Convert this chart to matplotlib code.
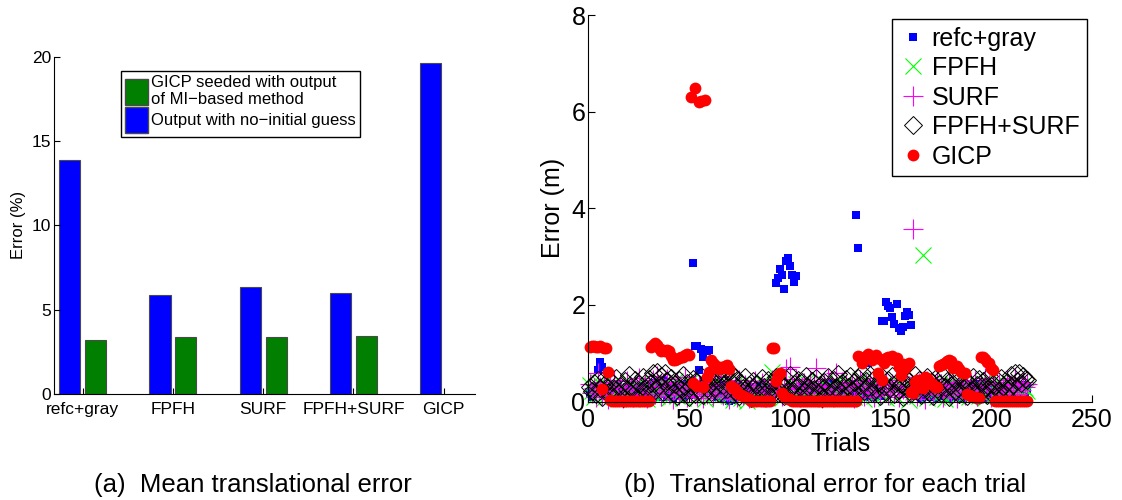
import numpy as np
import matplotlib
matplotlib.use("Agg")
import matplotlib.pyplot as plt
from matplotlib.patches import Patch

plt.rcParams['font.family'] = ['Liberation Sans', 'DejaVu Sans']

# ---- (a) mean translational error (%) ----
methods = ['refc+gray', 'FPFH', 'SURF', 'FPFH+SURF', 'GICP']
no_guess = [13.9, 5.86, 6.35, 6.0, 19.62]
seeded = [3.18, 3.38, 3.4, 3.43, np.nan]

# ---- (b) translational error (m) per trial ----
refc_gray = [
    0.18, 0.10, 0.25, 0.30, 0.65, 0.82, 0.72, 0.20, 0.12, 0.28,
    0.15, 0.22, 0.08, 0.35, 0.19, 0.05, 0.27, 0.14, 0.31, 0.09,
    0.24, 0.16, 0.06, 0.29, 0.21, 0.11, 0.33, 0.07, 0.18, 0.26,
    0.13, 0.38, 0.20, 0.09, 0.28, 0.15, 0.42, 0.22, 0.10, 0.30,
    0.17, 0.08, 0.25, 0.34, 0.12, 0.19, 0.05, 0.27, 0.36, 0.14,
    0.21, 2.86, 1.14, 1.15, 0.65, 1.08, 0.92, 1.05, 1.04, 1.06,
    0.30, 0.18, 0.24, 0.10, 0.35, 0.07, 0.20, 0.28, 0.12, 0.02,
    0.25, 0.04, 0.16, 0.32, 0.09, 0.22, 0.14, 0.05, 0.27, 0.18,
    0.11, 0.29, 0.20, 0.06, 0.33, 0.15, 0.24, 0.08, 0.19, 0.30,
    0.12, 0.26, 2.46, 2.55, 2.74, 2.62, 2.34, 2.90, 2.97, 2.81,
    2.62, 2.48, 2.60, 0.21, 0.13, 0.28, 0.07, 0.34, 0.18, 0.10,
    0.25, 0.16, 0.31, 0.05, 0.22, 0.14, 0.29, 0.09, 0.36, 0.19,
    0.11, 0.27, 0.17, 0.06, 0.32, 0.23, 0.13, 0.28, 0.08, 0.20,
    0.15, 0.30, 3.87, 3.17, 0.18, 0.26, 0.10, 0.22, 0.80, 0.14,
    0.27, 0.09, 0.33, 0.19, 0.12, 1.66, 1.67, 2.07, 1.97, 1.93,
    1.76, 1.60, 2.02, 1.52, 1.45, 1.55, 1.78, 1.86, 1.80, 1.58,
    0.24, 0.11, 0.30, 0.17, 0.07, 0.26, 0.14, 0.35, 0.20, 0.09,
    0.28, 0.16, 0.05, 0.23, 0.31, 0.12, 0.19, 0.27, 0.08, 0.34,
    0.15, 0.22, 0.10, 0.29, 0.18, 0.06, 0.25, 0.13, 0.32, 0.20,
    0.09, 0.27, 0.16, 0.36, 0.11, 0.23, 0.07, 0.30, 0.19, 0.14,
    0.26, 0.10, 0.33, 0.17, 0.05, 0.28, 0.21, 0.12, 0.31, 0.18,
    0.24, 0.08, 0.29, 0.15, 0.35, 0.20, 0.11, 0.26]

fpfh = [
    0.35, 0.22, 0.10, 0.28, 0.40, 0.15, 0.33, 0.08, 0.25, 0.19,
    0.30, 0.12, 0.38, 0.21, 0.06, 0.27, 0.34, 0.14, 0.23, 0.41,
    0.17, 0.29, 0.09, 0.36, 0.20, 0.13, 0.32, 0.24, 0.05, 0.30,
    0.18, 0.39, 0.26, 0.11, 0.45, 0.22, 0.15, 0.37, 0.28, 0.08,
    0.31, 0.19, 0.42, 0.12, 0.25, 0.34, 0.07, 0.29, 0.21, 0.38,
    0.14, 0.33, 0.24, 0.10, 0.40, 0.18, 0.27, 0.06, 0.35, 0.22,
    0.30, 0.13, 0.44, 0.20, 0.09, 0.32, 0.25, 0.16, 0.38, 0.11,
    0.28, 0.04, 0.36, 0.19, 0.23, 0.07, 0.31, 0.15, 0.02, 0.26,
    0.12, 0.34, 0.21, 0.05, 0.29, 0.18, 0.37, 0.10, 0.25, 0.33,
    0.62, 0.20, 0.14, 0.39, 0.27, 0.08, 0.32, 0.23, 0.43, 0.16,
    0.30, 0.11, 0.36, 0.21, 0.07, 0.28, 0.17, 0.41, 0.24, 0.13,
    0.35, 0.19, 0.09, 0.31, 0.26, 0.15, 0.38, 0.05, 0.22, 0.33,
    0.12, 0.29, 0.40, 0.18, 0.25, 0.08, 0.34, 0.21, 0.14, 0.37,
    0.27, 0.10, 0.32, 0.19, 0.44, 0.23, 0.06, 0.30, 0.16, 0.36,
    0.24, 0.11, 0.39, 0.20, 0.28, 0.13, 0.35, 0.07, 0.26, 0.42,
    0.17, 0.31, 0.09, 0.37, 0.22, 0.15, 0.33, 0.25, 0.04, 0.29,
    0.19, 0.38, 0.12, 0.27, 0.34, 3.03, 0.21, 0.08, 0.31, 0.16,
    0.40, 0.23, 0.10, 0.35, 0.18, 0.28, 0.06, 0.32, 0.24, 0.14,
    0.37, 0.20, 0.11, 0.30, 0.26, 0.43, 0.15, 0.33, 0.09, 0.22,
    0.29, 0.17, 0.36, 0.12, 0.25, 0.39, 0.07, 0.31, 0.19, 0.27,
    0.14, 0.34, 0.22, 0.41, 0.10, 0.28, 0.18, 0.35, 0.13, 0.30,
    0.24, 0.09, 0.37, 0.20, 0.32, 0.15, 0.27, 0.22]

surf = [
    0.36, 0.18, 0.27, 0.09, 0.58, 0.31, 0.14, 0.40, 0.22, 0.05,
    0.33, 0.19, 0.45, 0.12, 0.28, 0.37, 0.08, 0.25, 0.42, 0.16,
    0.30, 0.10, 0.35, 0.21, 0.48, 0.13, 0.26, 0.39, 0.07, 0.32,
    0.20, 0.44, 0.15, 0.52, 0.29, 0.11, 0.38, 0.24, 0.47, 0.17,
    0.34, 0.06, 0.27, 0.41, 0.14, 0.31, 0.22, 0.50, 0.09, 0.36,
    0.19, 0.28, 0.43, 0.12, 0.33, 0.24, 0.08, 0.39, 0.16, 0.46,
    0.25, 0.11, 0.37, 0.20, 0.30, 0.53, 0.14, 0.34, 0.22, 0.05,
    0.40, 0.18, 0.29, 0.10, 0.45, 0.26, 0.13, 0.35, 0.21, 0.08,
    0.31, 0.17, 0.42, 0.24, 0.12, 0.38, 0.27, 0.09, 0.33, 0.19,
    0.44, 0.15, 0.30, 0.23, 0.36, 0.11, 0.28, 0.68, 0.20, 0.72,
    0.34, 0.13, 0.47, 0.25, 0.09, 0.31, 0.39, 0.17, 0.26, 0.43,
    0.12, 0.35, 0.70, 0.21, 0.30, 0.08, 0.37, 0.24, 0.46, 0.15,
    0.32, 0.19, 0.60, 0.28, 0.11, 0.41, 0.23, 0.35, 0.14, 0.29,
    0.38, 0.07, 0.33, 0.20, 0.45, 0.26, 0.12, 0.36, 0.18, 0.42,
    0.24, 0.10, 0.31, 0.49, 0.16, 0.34, 0.22, 0.40, 0.13, 0.28,
    0.37, 0.19, 0.44, 0.09, 0.30, 0.25, 0.51, 0.15, 0.33, 0.21,
    3.58, 0.27, 0.12, 0.39, 0.18, 0.32, 0.06, 0.43, 0.24, 0.35,
    0.14, 0.29, 0.47, 0.20, 0.36, 0.10, 0.31, 0.25, 0.41, 0.16,
    0.34, 0.22, 0.08, 0.38, 0.27, 0.45, 0.13, 0.30, 0.19, 0.36,
    0.23, 0.42, 0.11, 0.33, 0.28, 0.17, 0.48, 0.21, 0.35, 0.09,
    0.40, 0.26, 0.15, 0.37, 0.22, 0.31, 0.12, 0.44, 0.19, 0.34,
    0.27, 0.49, 0.16, 0.38, 0.23, 0.41, 0.30, 0.36]

fpfh_surf = [
    0.30, 0.22, 0.38, 0.15, 0.45, 0.28, 0.10, 0.35, 0.50, 0.20,
    0.12, 0.40, 0.26, 0.48, 0.18, 0.33, 0.08, 0.42, 0.25, 0.55,
    0.30, 0.14, 0.44, 0.22, 0.36, 0.10, 0.50, 0.28, 0.16, 0.46,
    0.38, 0.58, 0.24, 0.62, 0.34, 0.52, 0.20, 0.60, 0.42, 0.30,
    0.48, 0.18, 0.36, 0.12, 0.44, 0.26, 0.54, 0.20, 0.38, 0.10,
    0.32, 0.46, 0.16, 0.40, 0.24, 0.52, 0.14, 0.36, 0.28, 0.48,
    0.20, 0.42, 0.30, 0.56, 0.18, 0.46, 0.34, 0.60, 0.26, 0.62,
    0.40, 0.55, 0.22, 0.44, 0.12, 0.38, 0.28, 0.50, 0.16, 0.34,
    0.08, 0.42, 0.24, 0.36, 0.14, 0.48, 0.30, 0.20, 0.44, 0.10,
    0.38, 0.26, 0.50, 0.18, 0.40, 0.32, 0.12, 0.46, 0.24, 0.54,
    0.16, 0.36, 0.28, 0.44, 0.10, 0.40, 0.22, 0.52, 0.30, 0.14,
    0.42, 0.26, 0.48, 0.18, 0.34, 0.08, 0.40, 0.24, 0.50, 0.32,
    0.16, 0.44, 0.28, 0.56, 0.20, 0.38, 0.12, 0.46, 0.30, 0.52,
    0.24, 0.40, 0.14, 0.48, 0.34, 0.58, 0.22, 0.42, 0.30, 0.54,
    0.18, 0.46, 0.26, 0.38, 0.12, 0.50, 0.32, 0.20, 0.44, 0.28,
    0.52, 0.16, 0.40, 0.24, 0.36, 0.10, 0.48, 0.30, 0.42, 0.18,
    0.34, 0.54, 0.22, 0.44, 0.14, 0.38, 0.28, 0.50, 0.20, 0.40,
    0.12, 0.46, 0.26, 0.36, 0.18, 0.52, 0.30, 0.42, 0.10, 0.34,
    0.48, 0.22, 0.40, 0.16, 0.56, 0.28, 0.44, 0.12, 0.38, 0.24,
    0.50, 0.18, 0.34, 0.46, 0.20, 0.42, 0.30, 0.14, 0.52, 0.26,
    0.36, 0.10, 0.44, 0.22, 0.48, 0.32, 0.16, 0.40, 0.28, 0.54,
    0.34, 0.58, 0.42, 0.60, 0.38, 0.52, 0.46, 0.44]

gicp = [
    1.12, 1.14, 1.15, 1.13, 1.12, 1.14, 0.25, 1.10, 1.11, 0.62,
    0.03, 0.01, 0.01, 0.01, 0.01, 0.01, 0.01, 0.01, 0.01, 0.01,
    0.01, 0.01, 0.01, 0.01, 0.01, 0.01, 0.01, 0.01, 0.01, 0.01,
    1.12, 1.18, 1.22, 1.18, 1.10, 1.05, 1.06, 1.04, 1.06, 1.05,
    0.95, 0.86, 0.85, 0.88, 0.90, 0.92, 0.93, 0.96, 0.98, 0.97,
    6.30, 0.38, 6.50, 0.32, 6.20, 6.22, 0.30, 6.25, 0.50, 0.62,
    0.85, 0.80, 0.75, 0.70, 0.68, 0.72, 0.70, 0.73, 0.75, 0.68,
    0.32, 0.28, 0.25, 0.20, 0.16, 0.14, 0.12, 0.10, 0.08, 0.05,
    0.01, 0.01, 0.01, 0.01, 0.01, 0.01, 0.01, 0.01, 0.01, 0.01,
    1.10, 1.11, 0.42, 0.55, 0.60, 0.18, 0.12, 0.08, 0.06, 0.05,
    0.01, 0.01, 0.01, 0.01, 0.01, 0.01, 0.01, 0.01, 0.01, 0.01,
    0.01, 0.01, 0.01, 0.01, 0.01, 0.01, 0.01, 0.01, 0.01, 0.01,
    0.01, 0.01, 0.01, 0.01, 0.01, 0.01, 0.01, 0.01, 0.01, 0.01,
    0.01, 0.01, 0.01, 0.95, 0.92, 0.80, 0.88, 0.95, 0.98, 0.90,
    0.85, 0.93, 0.97, 0.58, 0.88, 0.45, 0.80, 0.90, 0.92, 0.88,
    0.95, 0.85, 0.90, 0.72, 0.55, 0.78, 0.70, 0.75, 0.80, 0.20,
    0.17, 0.40, 0.45, 0.35, 0.30, 0.27, 0.50, 0.48, 0.42, 0.38,
    0.35, 0.31, 0.30, 0.74, 0.76, 0.78, 0.80, 0.84, 0.86, 0.83,
    0.70, 0.72, 0.74, 0.68, 0.62, 0.60, 0.59, 0.15, 0.13, 0.12,
    0.10, 0.09, 0.08, 0.07, 0.93, 0.92, 0.88, 0.82, 0.80, 0.70,
    0.66, 0.01, 0.01, 0.01, 0.01, 0.01, 0.01, 0.01, 0.01, 0.01,
    0.01, 0.01, 0.01, 0.01, 0.01, 0.01, 0.01, 0.01]

trials = np.arange(1, len(gicp) + 1)

fig = plt.figure(figsize=(11.22, 5), dpi=100)

# left panel
ax1 = fig.add_axes([0.0481, 0.212, 0.375, 0.6746])
x = np.arange(1, len(methods) + 1)
bw = 0.235
ax1.bar(x - 0.143, no_guess, bw, color='#0000ff', edgecolor='#4a4a4a', linewidth=0.8)
ax1.bar(x + 0.143, seeded, bw, color='#007f00', edgecolor='#4a4a4a', linewidth=0.8)
ax1.set_xlim(0.682, 5.343)
ax1.set_ylim(0, 20)
ax1.set_yticks([0, 5, 10, 15, 20])
ax1.set_xticks(x)
ax1.set_xticklabels(methods, fontsize=12.5)
ax1.tick_params(axis='y', labelsize=12.5, direction='in', length=4, pad=2)
ax1.tick_params(axis='x', direction='in', length=4, pad=6)
ax1.set_ylabel('Error (%)', fontsize=12, labelpad=4)
ax1.spines['top'].set_visible(False)
ax1.spines['right'].set_visible(False)
handles = [Patch(facecolor='#007f00', edgecolor='#4a4a4a'),
           Patch(facecolor='#0000ff', edgecolor='#4a4a4a')]
labels = ['GICP seeded with output\nof MI\u2212based method',
          'Output with no\u2212initial guess']
leg1 = ax1.legend(handles, labels, loc='upper left', bbox_to_anchor=(0.159, 0.958),
                  fontsize=12, handlelength=1.35, handleheight=1.95, labelspacing=0.0,
                  handletextpad=0.2, borderpad=0.25, borderaxespad=0,
                  fancybox=False, framealpha=1, edgecolor='black')
leg1.get_frame().set_linewidth(1.0)

# right panel
ax2 = fig.add_axes([0.5243, 0.197, 0.4489, 0.7726])
ax2.plot(trials, refc_gray, 's', color='#0000ff', ms=6, mew=0, clip_on=False, label='refc+gray')
ax2.plot(trials, fpfh, 'x', color='#00ff00', ms=11, mew=0.8, clip_on=False, label='FPFH')
ax2.plot(trials, surf, '+', color='#ff00ff', ms=15, mew=0.8, clip_on=False, label='SURF')
ax2.plot(trials, fpfh_surf, 'D', mfc='none', mec='black', ms=9, mew=0.7, clip_on=False,
         label='FPFH+SURF')
ax2.plot(trials, gicp, 'o', color='#ff0000', ms=8.5, mew=0, clip_on=False, label='GICP')
ax2.set_xlim(0, 250)
ax2.set_ylim(0, 8)
ax2.set_xticks([0, 50, 100, 150, 200, 250])
ax2.set_yticks([0, 2, 4, 6, 8])
ax2.tick_params(labelsize=18, direction='in', length=5)
ax2.tick_params(axis='x', pad=5)
ax2.tick_params(axis='y', pad=2)
ax2.set_xlabel('Trials', fontsize=18, labelpad=0)
ax2.set_ylabel('Error (m)', fontsize=18, labelpad=5)
ax2.spines['top'].set_visible(False)
ax2.spines['right'].set_visible(False)
leg2 = ax2.legend(loc='upper right', bbox_to_anchor=(0.99, 0.99), fontsize=18,
                  handlelength=1.1, handletextpad=0.2, labelspacing=0.22,
                  borderpad=0.3, borderaxespad=0, fancybox=False, framealpha=1,
                  edgecolor='black')
leg2.get_frame().set_linewidth(1.0)

fig.text(0.2255, 0.03, '(a)  Mean translational error', fontsize=18.5, ha='center', va='center')
fig.text(0.735, 0.03, '(b)  Translational error for each trial', fontsize=18.5,
         ha='center', va='center')

fig.savefig('out.png', dpi=100)
